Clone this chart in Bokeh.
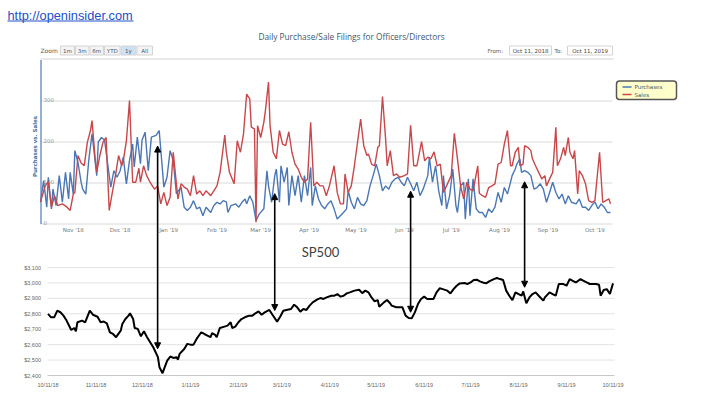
import math
import pandas as pd
from bokeh.plotting import figure
from bokeh.models import Range1d, Arrow, NormalHead, ColumnDataSource, BoxAnnotation
from bokeh.core.properties import value
from bokeh.embed import file_html
from bokeh.resources import INLINE

# ---------------- data ----------------
purch_dates = [
    "2018-10-11", "2018-10-13", "2018-10-15", "2018-10-16", "2018-10-18", "2018-10-19", "2018-10-21",
    "2018-10-23", "2018-10-25", "2018-10-27", "2018-10-29", "2018-10-30", "2018-11-01", "2018-11-02",
    "2018-11-04", "2018-11-06", "2018-11-07", "2018-11-09", "2018-11-11", "2018-11-13", "2018-11-14",
    "2018-11-16", "2018-11-17", "2018-11-19", "2018-11-21", "2018-11-23", "2018-11-25", "2018-11-27",
    "2018-11-29", "2018-12-01", "2018-12-03", "2018-12-05", "2018-12-07", "2018-12-09", "2018-12-10",
    "2018-12-12", "2018-12-14", "2018-12-15", "2018-12-17", "2018-12-19", "2018-12-21", "2018-12-24",
    "2018-12-26", "2018-12-29", "2018-12-31", "2019-01-02", "2019-01-04", "2019-01-06", "2019-01-09",
    "2019-01-11", "2019-01-13", "2019-01-15", "2019-01-17", "2019-01-19", "2019-01-21", "2019-01-23",
    "2019-01-25", "2019-01-28", "2019-01-30", "2019-02-01", "2019-02-03", "2019-02-05", "2019-02-07",
    "2019-02-08", "2019-02-10", "2019-02-13", "2019-02-15", "2019-02-17", "2019-02-19", "2019-02-20",
    "2019-02-22", "2019-02-24", "2019-02-26", "2019-02-28", "2019-03-03", "2019-03-05", "2019-03-06",
    "2019-03-08", "2019-03-10", "2019-03-11", "2019-03-13", "2019-03-14", "2019-03-16", "2019-03-18",
    "2019-03-19", "2019-03-21", "2019-03-23", "2019-03-25", "2019-03-27", "2019-03-29", "2019-03-31",
    "2019-04-02", "2019-04-03", "2019-04-05", "2019-04-07", "2019-04-09", "2019-04-11", "2019-04-13",
    "2019-04-15", "2019-04-17", "2019-04-19", "2019-04-21", "2019-04-23", "2019-04-25", "2019-04-26",
    "2019-04-28", "2019-04-30", "2019-05-02", "2019-05-04", "2019-05-06", "2019-05-08", "2019-05-10",
    "2019-05-12", "2019-05-14", "2019-05-16", "2019-05-18", "2019-05-20", "2019-05-22", "2019-05-24",
    "2019-05-26", "2019-05-28", "2019-05-30", "2019-06-01", "2019-06-03", "2019-06-05", "2019-06-07",
    "2019-06-09", "2019-06-11", "2019-06-13", "2019-06-16", "2019-06-17", "2019-06-19", "2019-06-21",
    "2019-06-23", "2019-06-25", "2019-06-26", "2019-06-28", "2019-06-30", "2019-07-02", "2019-07-04",
    "2019-07-05", "2019-07-07", "2019-07-09", "2019-07-10", "2019-07-12", "2019-07-13", "2019-07-15",
    "2019-07-17", "2019-07-19", "2019-07-21", "2019-07-23", "2019-07-25", "2019-07-27", "2019-07-29",
    "2019-07-31", "2019-08-02", "2019-08-04", "2019-08-06", "2019-08-08", "2019-08-09", "2019-08-11",
    "2019-08-12", "2019-08-14", "2019-08-15", "2019-08-17", "2019-08-19", "2019-08-21", "2019-08-23",
    "2019-08-25", "2019-08-27", "2019-08-29", "2019-08-31", "2019-09-02", "2019-09-04", "2019-09-06",
    "2019-09-08", "2019-09-10", "2019-09-12", "2019-09-14", "2019-09-16", "2019-09-19", "2019-09-21",
    "2019-09-23", "2019-09-25", "2019-09-27", "2019-09-29", "2019-10-01", "2019-10-03", "2019-10-05",
    "2019-10-07", "2019-10-09", "2019-10-11"]
purchases = [
    53, 106, 41, 114, 37, 85, 45,
    118, 53, 126, 61, 126, 73, 179,
    150, 102, 85, 73, 159, 220, 187,
    118, 200, 211, 205, 147, 90, 130,
    114, 130, 163, 98, 155, 195, 139,
    212, 147, 204, 224, 130, 212, 216,
    228, 90, 114, 179, 155, 74, 90,
    41, 33, 41, 57, 37, 41, 20,
    41, 28, 45, 53, 49, 57, 54,
    28, 45, 49, 41, 53, 61, 49,
    69, 53, 8, 24, 37, 130, 93,
    53, 118, 134, 53, 142, 102, 138,
    45, 118, 69, 118, 53, 118, 69,
    138, 45, 93, 61, 45, 37, 49,
    57, 37, 12, 20, 28, 37, 81,
    53, 37, 65, 49, 45, 57, 93,
    118, 146, 118, 81, 93, 85, 102,
    110, 114, 102, 93, 114, 98, 81,
    102, 69, 85, 118, 163, 102, 142,
    81, 45, 118, 37, 69, 134, 45,
    28, 93, 102, 12, 110, 20, 110,
    37, 28, 28, 16, 37, 28, 41,
    77, 53, 89, 73, 102, 118, 134,
    146, 159, 126, 130, 126, 118, 85,
    89, 98, 85, 53, 77, 102, 77,
    61, 73, 49, 69, 53, 49, 61,
    41, 41, 33, 45, 54, 37, 49,
    41, 28, 28]

sales_dates = [
    "2018-10-11", "2018-10-14", "2018-10-16", "2018-10-18", "2018-10-20", "2018-10-22", "2018-10-25",
    "2018-10-28", "2018-10-30", "2018-11-01", "2018-11-02", "2018-11-04", "2018-11-06", "2018-11-08",
    "2018-11-10", "2018-11-12", "2018-11-13", "2018-11-15", "2018-11-16", "2018-11-18", "2018-11-20",
    "2018-11-22", "2018-11-24", "2018-11-26", "2018-11-28", "2018-11-30", "2018-12-02", "2018-12-03",
    "2018-12-05", "2018-12-07", "2018-12-09", "2018-12-11", "2018-12-13", "2018-12-14", "2018-12-16",
    "2018-12-18", "2018-12-20", "2018-12-23", "2018-12-25", "2018-12-27", "2018-12-29", "2018-12-31",
    "2019-01-02", "2019-01-04", "2019-01-07", "2019-01-09", "2019-01-11", "2019-01-13", "2019-01-15",
    "2019-01-17", "2019-01-19", "2019-01-21", "2019-01-23", "2019-01-25", "2019-01-28", "2019-01-30",
    "2019-02-01", "2019-02-03", "2019-02-06", "2019-02-07", "2019-02-09", "2019-02-12", "2019-02-14",
    "2019-02-16", "2019-02-18", "2019-02-20", "2019-02-22", "2019-02-23", "2019-02-25", "2019-02-26",
    "2019-02-27", "2019-03-01", "2019-03-03", "2019-03-04", "2019-03-06", "2019-03-07", "2019-03-09",
    "2019-03-11", "2019-03-13", "2019-03-15", "2019-03-17", "2019-03-19", "2019-03-21", "2019-03-23",
    "2019-03-25", "2019-03-27", "2019-03-29", "2019-03-31", "2019-04-02", "2019-04-04", "2019-04-06",
    "2019-04-08", "2019-04-10", "2019-04-12", "2019-04-14", "2019-04-17", "2019-04-19", "2019-04-21",
    "2019-04-23", "2019-04-24", "2019-04-26", "2019-04-28", "2019-04-30", "2019-05-04", "2019-05-06",
    "2019-05-08", "2019-05-09", "2019-05-11", "2019-05-13", "2019-05-15", "2019-05-16", "2019-05-18",
    "2019-05-20", "2019-05-21", "2019-05-23", "2019-05-25", "2019-05-27", "2019-05-29", "2019-06-01",
    "2019-06-03", "2019-06-05", "2019-06-07", "2019-06-09", "2019-06-12", "2019-06-14", "2019-06-16",
    "2019-06-18", "2019-06-20", "2019-06-22", "2019-06-24", "2019-06-26", "2019-06-28", "2019-07-01",
    "2019-07-03", "2019-07-05", "2019-07-07", "2019-07-09", "2019-07-11", "2019-07-13", "2019-07-15",
    "2019-07-18", "2019-07-19", "2019-07-21", "2019-07-23", "2019-07-25", "2019-07-27", "2019-07-29",
    "2019-07-31", "2019-08-02", "2019-08-04", "2019-08-06", "2019-08-08", "2019-08-09", "2019-08-11",
    "2019-08-13", "2019-08-14", "2019-08-16", "2019-08-17", "2019-08-19", "2019-08-21", "2019-08-22",
    "2019-08-24", "2019-08-26", "2019-08-28", "2019-08-30", "2019-08-31", "2019-09-02", "2019-09-04",
    "2019-09-06", "2019-09-07", "2019-09-09", "2019-09-11", "2019-09-12", "2019-09-14", "2019-09-15",
    "2019-09-17", "2019-09-18", "2019-09-20", "2019-09-21", "2019-09-23", "2019-09-25", "2019-09-27",
    "2019-09-29", "2019-10-01", "2019-10-04", "2019-10-06", "2019-10-08", "2019-10-10", "2019-10-11"]
sales = [
    54, 93, 103, 41, 69, 45, 49,
    41, 33, 73, 77, 167, 149, 142,
    199, 228, 252, 159, 126, 167, 199,
    211, 33, 77, 118, 167, 142, 154,
    203, 301, 102, 102, 136, 102, 142,
    118, 103, 85, 93, 49, 77, 45,
    65, 175, 61, 98, 90, 85, 69,
    118, 73, 81, 69, 81, 69, 81,
    93, 126, 217, 175, 126, 98, 203,
    175, 220, 317, 305, 236, 232, 4,
    240, 211, 248, 276, 346, 240, 175,
    159, 228, 195, 191, 225, 175, 146,
    134, 114, 102, 110, 248, 93, 102,
    93, 93, 69, 93, 142, 77, 49,
    49, 122, 77, 93, 142, 256, 191,
    167, 171, 146, 142, 187, 191, 311,
    207, 142, 179, 118, 122, 114, 118,
    122, 241, 142, 142, 201, 154, 163,
    159, 176, 142, 146, 77, 93, 118,
    221, 159, 93, 61, 102, 85, 81,
    142, 75, 69, 65, 89, 93, 98,
    146, 150, 195, 228, 142, 142, 175,
    187, 142, 146, 191, 187, 179, 159,
    142, 126, 110, 118, 93, 110, 126,
    236, 142, 159, 187, 167, 211, 175,
    159, 179, 73, 130, 118, 98, 57,
    53, 57, 175, 53, 57, 61, 49]

sp_dates = [
    "2018-10-11", "2018-10-13", "2018-10-15", "2018-10-17", "2018-10-19", "2018-10-21", "2018-10-23",
    "2018-10-26", "2018-10-28", "2018-10-29", "2018-10-30", "2018-11-02", "2018-11-04", "2018-11-07",
    "2018-11-09", "2018-11-12", "2018-11-14", "2018-11-16", "2018-11-18", "2018-11-20", "2018-11-22",
    "2018-11-24", "2018-11-25", "2018-11-27", "2018-11-28", "2018-11-30", "2018-12-02", "2018-12-03",
    "2018-12-05", "2018-12-06", "2018-12-08", "2018-12-10", "2018-12-12", "2018-12-14", "2018-12-16",
    "2018-12-18", "2018-12-19", "2018-12-21", "2018-12-22", "2018-12-24", "2018-12-25", "2018-12-27",
    "2018-12-29", "2018-12-31", "2019-01-02", "2019-01-03", "2019-01-04", "2019-01-07", "2019-01-09",
    "2019-01-11", "2019-01-13", "2019-01-15", "2019-01-18", "2019-01-20", "2019-01-22", "2019-01-24",
    "2019-01-25", "2019-01-27", "2019-01-28", "2019-01-30", "2019-02-02", "2019-02-04", "2019-02-06",
    "2019-02-07", "2019-02-09", "2019-02-11", "2019-02-13", "2019-02-16", "2019-02-18", "2019-02-20",
    "2019-02-22", "2019-02-24", "2019-02-26", "2019-02-28", "2019-03-03", "2019-03-05", "2019-03-08",
    "2019-03-10", "2019-03-12", "2019-03-14", "2019-03-17", "2019-03-19", "2019-03-21", "2019-03-23",
    "2019-03-25", "2019-03-27", "2019-03-29", "2019-03-31", "2019-04-03", "2019-04-05", "2019-04-07",
    "2019-04-09", "2019-04-12", "2019-04-14", "2019-04-16", "2019-04-18", "2019-04-20", "2019-04-22",
    "2019-04-24", "2019-04-27", "2019-04-30", "2019-05-02", "2019-05-04", "2019-05-06", "2019-05-08",
    "2019-05-10", "2019-05-12", "2019-05-13", "2019-05-16", "2019-05-18", "2019-05-20", "2019-05-21",
    "2019-05-24", "2019-05-28", "2019-05-30", "2019-06-01", "2019-06-03", "2019-06-05", "2019-06-07",
    "2019-06-09", "2019-06-11", "2019-06-13", "2019-06-17", "2019-06-19", "2019-06-21", "2019-06-23",
    "2019-06-26", "2019-06-28", "2019-06-30", "2019-07-02", "2019-07-04", "2019-07-07", "2019-07-09",
    "2019-07-11", "2019-07-13", "2019-07-15", "2019-07-17", "2019-07-19", "2019-07-21", "2019-07-23",
    "2019-07-26", "2019-07-28", "2019-07-30", "2019-08-01", "2019-08-03", "2019-08-05", "2019-08-07",
    "2019-08-09", "2019-08-11", "2019-08-13", "2019-08-14", "2019-08-16", "2019-08-18", "2019-08-20",
    "2019-08-22", "2019-08-24", "2019-08-27", "2019-08-28", "2019-08-31", "2019-09-02", "2019-09-04",
    "2019-09-06", "2019-09-09", "2019-09-11", "2019-09-13", "2019-09-15", "2019-09-17", "2019-09-20",
    "2019-09-22", "2019-09-24", "2019-09-26", "2019-09-30", "2019-10-02", "2019-10-03", "2019-10-05",
    "2019-10-07", "2019-10-09", "2019-10-11"]
sp500 = [
    2799, 2777, 2777, 2820, 2810, 2788, 2756,
    2695, 2708, 2687, 2745, 2756, 2745, 2820,
    2794, 2781, 2745, 2750, 2738, 2680, 2669,
    2648, 2663, 2691, 2734, 2766, 2788, 2803,
    2766, 2708, 2702, 2654, 2687, 2648, 2616,
    2583, 2562, 2519, 2454, 2415, 2443, 2497,
    2523, 2514, 2519, 2503, 2540, 2572, 2605,
    2600, 2600, 2637, 2680, 2669, 2659, 2648,
    2674, 2663, 2648, 2708, 2717, 2723, 2745,
    2708, 2717, 2745, 2766, 2781, 2788, 2788,
    2803, 2816, 2794, 2809, 2825, 2794, 2749,
    2781, 2820, 2825, 2831, 2859, 2842, 2814,
    2831, 2825, 2853, 2874, 2893, 2902, 2896,
    2906, 2917, 2917, 2928, 2911, 2917, 2932,
    2939, 2950, 2956, 2934, 2950, 2939, 2906,
    2881, 2889, 2846, 2874, 2889, 2868, 2853,
    2842, 2842, 2788, 2773, 2771, 2809, 2863,
    2896, 2911, 2896, 2896, 2939, 2965, 2960,
    2950, 2932, 2960, 2982, 2997, 2999, 2993,
    3003, 3019, 3021, 3010, 3003, 2997, 3010,
    3025, 3032, 3025, 3019, 2950, 2917, 2889,
    2939, 2928, 2917, 2945, 2868, 2906, 2928,
    2939, 2917, 2885, 2906, 2939, 2928, 2917,
    2993, 2993, 2982, 3025, 3014, 3003, 3025,
    3014, 3003, 2993, 2993, 2988, 2917, 2954,
    2960, 2928, 2997]

month_ticks = ["2018-11-01", "2018-12-01", "2019-01-01", "2019-02-01", "2019-03-01", "2019-04-01",
               "2019-05-01", "2019-06-01", "2019-07-01", "2019-08-01", "2019-09-01", "2019-10-01"]
month_labels = ["Nov '18", "Dec '18", "Jan '19", "Feb '19", "Mar '19", "Apr '19",
                "May '19", "Jun '19", "Jul '19", "Aug '19", "Sep '19", "Oct '19"]
top_yticks = [0, 100, 200, 300]

sp_yticks = [2400, 2500, 2600, 2700, 2800, 2900, 3000, 3100]
sp_ylabels = ["$2,400", "$2,500", "$2,600", "$2,700", "$2,800", "$2,900", "$3,000", "$3,100"]
sp_xticks = ["2018-10-11", "2018-11-11", "2018-12-11", "2019-01-11", "2019-02-11", "2019-03-11",
             "2019-04-11", "2019-05-11", "2019-06-11", "2019-07-11", "2019-08-11", "2019-09-11",
             "2019-10-11"]
sp_xlabels = ["10/11/18", "11/11/18", "12/11/18", "1/11/19", "2/11/19", "3/11/19", "4/11/19",
              "5/11/19", "6/11/19", "7/11/19", "8/11/19", "9/11/19", "10/11/19"]

arrow_dates = ["2018-12-25", "2019-03-10", "2019-06-05", "2019-08-17"]
arrow_purch = [190, 74, 80, 103]
arrow_sp = [2573, 2821, 2810, 2972]

zoom_labels = ["1m", "3m", "6m", "YTD", "1y", "All"]
series_names = ["Purchases", "Sales"]

# ---------------- layout (page pixels) ----------------
W, H = 698, 398
L, T = 0, 0
R, B = L + W, T + H

BLUE = "#4A77B4"
RED = "#C8474B"
HC = value("DejaVu Sans")
XL = value("Liberation Sans")


def to_dt(lst):
    return pd.to_datetime(lst).to_numpy()


def ms(s):
    return pd.Timestamp(s).value / 1e6


def fit(v0, c0, v1, c1, lo, hi):
    k = (v1 - v0) / (c1 - c0)
    return Range1d(start=v0 + (lo - c0) * k, end=v0 + (hi - c0) * k)


p = figure(width=W, height=H, title=None, x_axis_type=None, y_axis_type=None,
           x_range=Range1d(L, R), y_range=Range1d(B, T),
           toolbar_location=None, output_backend="svg", min_border=0)
p.outline_line_color = None
p.background_fill_color = "white"
p.border_fill_color = "white"

p.extra_x_ranges = {
    "tx": fit(ms("2018-10-11"), 40, ms("2019-10-11"), 610, L, R),
    "bx": fit(ms("2018-10-11"), 47.5, ms("2019-10-11"), 612.5, L, R),
}
p.extra_y_ranges = {
    "ty": fit(0, 223.5, 300, 100.5, B, T),
    "by": fit(2400, 375, 3100, 267, B, T),
}

# ---- header ----
p.text(x=[7], y=[14.5], text=["http://openinsider.com"], text_font=XL, text_font_size="12.8px",
       text_color="#2150C8", text_baseline="middle")
p.segment(x0=[7], x1=[133], y0=[20.5], y1=[20.5], line_color="#2150C8", line_width=1)

p.text(x=[351], y=[36], text=["Daily Purchase/Sale Filings for Officers/Directors"],
       text_font=value("Open Sans"), text_font_size="8.3px", text_color="#3E576F",
       text_align="center", text_baseline="middle")

# zoom buttons
p.text(x=[40], y=[50], text=["Zoom"], text_font=HC, text_font_size="6px", text_color="#555",
       text_baseline="middle")
btn_left = [60, 75, 89.5, 104, 120.5, 136.5]
btn_right = [74, 88.5, 103, 119.5, 135.5, 152]
btn_fill = ["#f4f4f4", "#f4f4f4", "#f4f4f4", "#f4f4f4", "#cfe2f5", "#f4f4f4"]
p.quad(left=btn_left, right=btn_right, top=45.5, bottom=54.5, fill_color=btn_fill,
       line_color="#d4d4d4", line_width=1)
p.text(x=[(a + b) / 2 for a, b in zip(btn_left, btn_right)], y=50, text=zoom_labels,
       text_font=HC, text_font_size="5.5px", text_color="#3E576F", text_align="center",
       text_baseline="middle")

# from / to
p.quad(left=[509, 567], right=[551, 612], top=45.5, bottom=54.5, fill_color="white",
       line_color="#d4d4d4", line_width=1)
p.text(x=[487, 554], y=50, text=["From:", "To:"], text_font=HC, text_font_size="5.5px",
       text_color="#555", text_baseline="middle")
p.text(x=[530, 589.5], y=50, text=["Oct 11, 2018", "Oct 11, 2019"], text_font=HC,
       text_font_size="5.5px", text_color="#444", text_align="center", text_baseline="middle")

# ---- top chart ----
p.segment(x0=[40], x1=[613], y0=[58.5], y1=[58.5], line_color="#e2e2e2", line_width=1.5)
p.segment(x0=40, x1=612, y0=top_yticks, y1=top_yticks, y_range_name="ty",
          line_color="#dadada", line_width=1)
p.segment(x0=[40.5], x1=[40.5], y0=[59.5], y1=[223.5], line_color="#6F94C8", line_width=1.5)
p.text(x=43, y=top_yticks, text=[str(v) for v in top_yticks], y_range_name="ty",
       text_font=HC, text_font_size="5.5px", text_color="#999", text_baseline="alphabetic",
       y_offset=-1.5)
p.text(x=[34.5], y=[146], text=["Purchases vs. Sales"], angle=math.pi / 2, text_font=HC,
       text_font_size="5.5px", text_font_style="bold", text_color="#4572A7",
       text_align="center", text_baseline="middle")
p.text(x=to_dt(month_ticks), y=229.5, text=month_labels, x_range_name="tx", text_font=HC,
       text_font_size="5.5px", text_color="#777", text_align="center", text_baseline="middle")

p.line(to_dt(purch_dates), purchases, x_range_name="tx", y_range_name="ty",
       line_color=BLUE, line_width=1.4)
p.line(to_dt(sales_dates), sales, x_range_name="tx", y_range_name="ty",
       line_color=RED, line_width=1.4)

# legend
p.add_layout(BoxAnnotation(left=616, right=676, top=80.5, bottom=99, fill_color="#FFFFCC",
                           fill_alpha=1, line_color="#555", line_width=1.5, line_alpha=1,
                           border_radius=3, level="underlay"))
p.segment(x0=622, x1=631, y0=[86.5, 94], y1=[86.5, 94], line_color=[BLUE, RED], line_width=1.5)
p.text(x=634, y=[86.5, 94], text=series_names, text_font=HC, text_font_size="5.5px",
       text_color="#3E576F", text_baseline="middle")

# ---- SP500 chart ----
p.text(x=[320], y=[251.5], text=["SP500"], text_font=value("Lato"), text_font_size="13px",
       text_color="#404040", text_align="center", text_baseline="middle")
p.segment(x0=47, x1=614, y0=sp_yticks[1:], y1=sp_yticks[1:], y_range_name="by",
          line_color="#e3e3e3", line_width=1)
p.segment(x0=[47], x1=[614], y0=sp_yticks[:1], y1=sp_yticks[:1], y_range_name="by",
          line_color="#c8c8c8", line_width=1)
p.text(x=40.5, y=sp_yticks, text=sp_ylabels, y_range_name="by", text_font=XL,
       text_font_size="5.5px", text_color="#666", text_align="right", text_baseline="middle")
p.text(x=to_dt(sp_xticks), y=384, text=sp_xlabels, x_range_name="bx", text_font=XL,
       text_font_size="5.5px", text_color="#666", text_align="center", text_baseline="middle")
p.line(to_dt(sp_dates), sp500, x_range_name="bx", y_range_name="by",
       line_color="black", line_width=2)

# ---- arrows linking both charts ----
ty = p.extra_y_ranges["ty"]
by = p.extra_y_ranges["by"]


def ty_to_by(v):
    return by.start + (v - ty.start) / (ty.end - ty.start) * (by.end - by.start)


asrc = ColumnDataSource(dict(x=to_dt(arrow_dates), y0=[ty_to_by(v) for v in arrow_purch],
                             y1=arrow_sp))
p.add_layout(Arrow(start=NormalHead(size=6, fill_color="black", line_color="black"),
                   end=NormalHead(size=6, fill_color="black", line_color="black"),
                   x_start="x", y_start="y0", x_end="x", y_end="y1", source=asrc,
                   x_range_name="tx", y_range_name="by", line_color="black", line_width=1.6))

open("out.html", "w").write(file_html(p, INLINE))
